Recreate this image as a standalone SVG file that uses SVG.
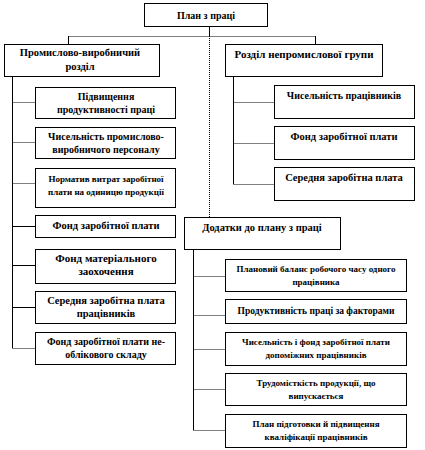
<svg xmlns="http://www.w3.org/2000/svg" width="425" height="450" viewBox="0 0 425 450">
<style>
.b{fill:#fff;stroke:#000;stroke-width:1}
.t{font-family:"Liberation Serif","Times New Roman",serif;font-weight:bold;font-size:10px;fill:#000;text-anchor:middle}
.s{font-size:9px}
.m{font-size:10.5px}
.l{font-size:11px}
.c{fill:none;stroke:#000;stroke-width:1}
.d{fill:none;stroke:#000;stroke-width:1;stroke-dasharray:1,1}
</style>
<rect width="425" height="450" fill="#fff"/>
<g id="connectors">
<path class="c" d="M209.5 27V36"/>
<path class="d" d="M68.5 36.5H315.5"/>
<path class="c" d="M68.5 36V44M315.5 36V44"/>
<path class="d" d="M209.5 36V217"/>
<path class="c" d="M12.5 77V348"/>
<path class="d" d="M12.5 102.5H35M12.5 142.5H35M12.5 183.5H35M12.5 348.5H35"/>
<path class="c" d="M12.5 226.5H35M12.5 265.5H35M12.5 307.5H35"/>
<path class="c" d="M233.5 76V184"/>
<path class="d" d="M233.5 102.5H274M233.5 143.5H274M233.5 184.5H274"/>
<path class="c" d="M193.5 249V430"/>
<path class="d" d="M193.5 276.5H225M193.5 315.5H225M193.5 349.5H225M193.5 389.5H225M193.5 430.5H225"/>
</g>
<g id="n0"><rect class="b" x="144.5" y="3.5" width="123" height="23"/><text class="t" x="206" y="19">План з праці</text></g>
<g id="n1"><rect class="b" x="4.5" y="44.5" width="155" height="32"/><text class="t m" x="80" y="56">Промислово-виробничий</text><text class="t m" x="80" y="70">розділ</text></g>
<g id="n2"><rect class="b" x="35.5" y="87.5" width="140" height="31"/><text class="t" x="106" y="100">Підвищення</text><text class="t" x="106" y="113">продуктивності праці</text></g>
<g id="n3"><rect class="b" x="35.5" y="127.5" width="140" height="31"/><text class="t" x="106" y="140">Чисельність  промислово-</text><text class="t" x="106" y="153">виробничого персоналу</text></g>
<g id="n4"><rect class="b" x="35.5" y="168.5" width="140" height="39"/><text class="t s" x="106" y="182">Норматив витрат заробітної</text><text class="t s" x="106" y="195">плати на одиницю продукції</text></g>
<g id="n5"><rect class="b" x="35.5" y="215.5" width="140" height="22"/><text class="t m" x="106" y="229">Фонд заробітної плати</text></g>
<g id="n6"><rect class="b" x="35.5" y="249.5" width="140" height="34"/><text class="t l" x="106" y="262">Фонд матеріального</text><text class="t l" x="106" y="275">заохочення</text></g>
<g id="n7"><rect class="b" x="35.5" y="291.5" width="140" height="32"/><text class="t m" x="106" y="304">Середня заробітна плата</text><text class="t m" x="106" y="317">працівників</text></g>
<g id="n8"><rect class="b" x="35.5" y="332.5" width="140" height="32"/><text class="t" x="106" y="345">Фонд заробітної плати не-</text><text class="t" x="106" y="358">облікового складу</text></g>
<g id="n9"><rect class="b" x="225.5" y="44.5" width="157" height="32"/><text class="t l" x="304" y="58">Розділ непромислової групи</text></g>
<g id="n10"><rect class="b" x="274.5" y="85.5" width="140" height="33"/><text class="t" x="344" y="99">Чисельність  працівників</text></g>
<g id="n11"><rect class="b" x="274.5" y="126.5" width="140" height="33"/><text class="t m" x="344" y="140">Фонд заробітної плати</text></g>
<g id="n12"><rect class="b" x="274.5" y="167.5" width="140" height="33"/><text class="t m" x="344" y="181">Середня заробітна плата</text></g>
<g id="n13"><rect class="b" x="184.5" y="217.5" width="156" height="32"/><text class="t m" x="262" y="231">Додатки до плану з праці</text></g>
<g id="n14"><rect class="b" x="225.5" y="259.5" width="181" height="32"/><text class="t s" x="316" y="272">Плановий баланс робочого часу одного</text><text class="t s" x="316" y="285">працівника</text></g>
<g id="n15"><rect class="b" x="225.5" y="299.5" width="181" height="24"/><text class="t s" x="316" y="314" style="font-size:9.5px">Продуктивність праці за факторами</text></g>
<g id="n16"><rect class="b" x="225.5" y="332.5" width="181" height="33"/><text class="t s" x="316" y="345">Чисельність і фонд заробітної плати</text><text class="t s" x="316" y="358">допоміжних працівників</text></g>
<g id="n17"><rect class="b" x="225.5" y="373.5" width="181" height="32"/><text class="t s" x="316" y="386">Трудомісткість продукції, що</text><text class="t s" x="316" y="399">випускається</text></g>
<g id="n18"><rect class="b" x="225.5" y="414.5" width="181" height="33"/><text class="t s" x="316" y="427">План підготовки й підвищення</text><text class="t s" x="316" y="440">кваліфікації працівників</text></g>
</svg>
